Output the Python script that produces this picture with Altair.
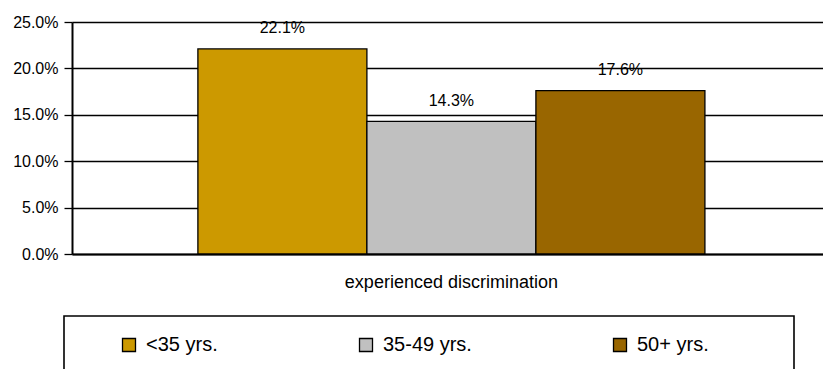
import altair as alt
import pandas as pd

# Share of respondents who experienced discrimination, by age group
category = ["experienced discrimination"]
age_groups = ["<35 yrs.", "35-49 yrs.", "50+ yrs."]
shares = [0.221, 0.143, 0.176]
bar_colors = ["#CC9900", "#C0C0C0", "#996600"]
y_ticks = [0.0, 0.05, 0.10, 0.15, 0.20, 0.25]

df = pd.DataFrame({
    "question": category * len(age_groups),
    "age": age_groups,
    "share": shares,
})

FONT = "Liberation Sans"

x_enc = alt.X(
    "question:N",
    scale=alt.Scale(paddingInner=0, paddingOuter=0.2406, align=0.516),
    axis=alt.Axis(
        title=None, labelAngle=0, labelFont=FONT, labelFontSize=18,
        labelColor="black", labelLimit=500, ticks=False, tickSize=0,
        labelPadding=33, labelBaseline="alphabetic", domainColor="black",
        domainWidth=2, grid=False,
    ),
)
xoff_enc = alt.XOffset(
    "age:N", sort=age_groups,
    scale=alt.Scale(paddingInner=0, paddingOuter=0),
)
y_enc = alt.Y(
    "share:Q",
    scale=alt.Scale(domain=[0, 0.25], nice=False),
    axis=alt.Axis(
        title=None, format=".1%", values=y_ticks, labelFont=FONT,
        labelFontSize=16, labelColor="black", tickColor="black",
        tickSize=8, tickWidth=1.3, labelPadding=6, domainColor="black",
        domainWidth=2, grid=True, gridColor="black", gridWidth=1.3,
        gridOpacity=1,
    ),
)
color_enc = alt.Color(
    "age:N", sort=age_groups,
    scale=alt.Scale(domain=age_groups, range=bar_colors),
    legend=alt.Legend(
        title=" ", titleOrient="right", titleFontSize=4, titlePadding=66,
        orient="none", legendX=-8, legendY=294, direction="horizontal",
        columns=3, columnPadding=102, symbolType="square", symbolSize=169,
        symbolStrokeColor="black", symbolStrokeWidth=1.3, symbolOpacity=1,
        symbolOffset=36, labelFont=FONT, labelFontSize=20,
        labelColor="black", labelOffset=7, labelLimit=300,
        strokeColor="black", fillColor="white", padding=19,
    ),
)

bars = alt.Chart(df).mark_bar(stroke="black", strokeWidth=1.3).encode(
    x=x_enc, xOffset=xoff_enc, y=y_enc, color=color_enc,
)
labels = alt.Chart(df).mark_text(
    baseline="alphabetic", dy=-15.5, fontSize=16, font=FONT, color="black",
).encode(
    x=x_enc, xOffset=xoff_enc, y=y_enc,
    text=alt.Text("share:Q", format=".1%"),
)

chart = alt.layer(bars, labels).properties(
    width=751, height=232,
    autosize=alt.AutoSizeParams(type="none"),
    padding={"left": 72, "top": 22, "right": 0, "bottom": 115},
).configure_view(stroke=None).configure_legend(strokeWidth=1.6)

chart.save("out.html", embed_options={"renderer": "svg", "actions": False})
